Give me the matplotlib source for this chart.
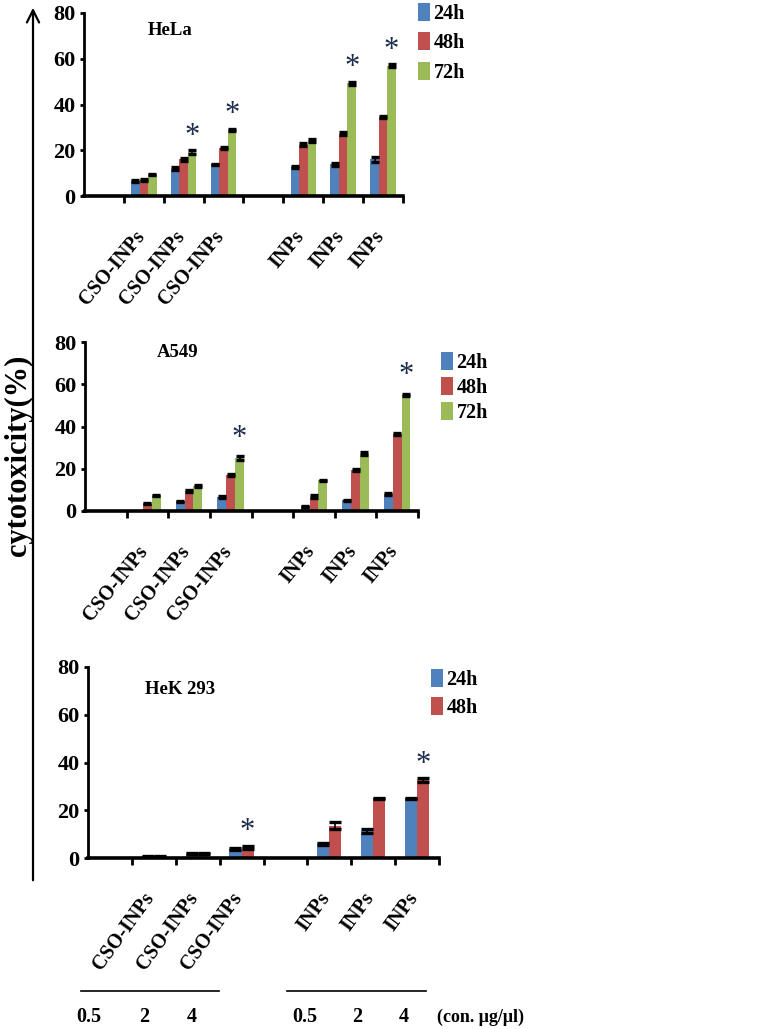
import matplotlib
matplotlib.use("Agg")
import matplotlib.pyplot as plt
import matplotlib.transforms as mtransforms
from matplotlib.patches import FancyArrowPatch, Patch
from matplotlib.lines import Line2D
import numpy as np

plt.rcParams["font.family"] = ["Liberation Serif", "DejaVu Serif"]
plt.rcParams["font.weight"] = "bold"

# ── data ─────────────────────────────────────────────
slot_labels = ["", "CSO-INPs", "CSO-INPs", "CSO-INPs", "", "INPs", "INPs", "INPs"]
bar_slots = [1, 2, 3, 5, 6, 7]

hela_24 = [6.5, 12.0, 13.8, 12.8, 13.8, 16.0]
hela_48 = [7.0, 16.0, 21.0, 22.5, 27.3, 34.5]
hela_72 = [9.3, 19.3, 28.8, 24.3, 49.2, 57.0]
hela_24_err = [0.4, 0.5, 0.3, 0.5, 0.5, 1.0]
hela_48_err = [0.5, 0.6, 0.4, 0.5, 0.6, 0.4]
hela_72_err = [0.3, 1.0, 0.4, 0.5, 0.8, 0.5]
hela_stars = [1, 2, 4, 5]          # groups with * on 72h bar

a549_24 = [0.0, 4.5, 6.6, 2.2, 5.0, 8.0]
a549_48 = [3.5, 9.3, 17.0, 6.8, 19.2, 36.5]
a549_72 = [7.3, 11.7, 25.0, 14.5, 27.2, 54.8]
a549_24_err = [0.0, 0.4, 0.4, 0.3, 0.4, 0.4]
a549_48_err = [0.4, 0.5, 0.4, 0.8, 0.5, 0.5]
a549_72_err = [0.3, 0.4, 0.8, 0.4, 0.8, 0.5]
a549_stars = [2, 5]

hek_24 = [0.8, 1.7, 3.9, 6.0, 11.2, 25.0]
hek_48 = [0.8, 1.7, 4.4, 13.5, 25.0, 32.7]
hek_24_err = [0.2, 0.2, 0.4, 0.4, 0.8, 0.3]
hek_48_err = [0.2, 0.2, 0.8, 1.4, 0.3, 0.7]
hek_stars = [2, 5]                 # on 48h bar

conc_labels = ["0.5", "2", "4", "0.5", "2", "4"]
conc_unit = "(con. μg/μl)"

COLORS = {"24h": "#4F81BD", "48h": "#C0504D", "72h": "#9BBB59"}
STAR_COLOR = "#1C2B4A"

W, H = 771, 1029
fig = plt.figure(figsize=(W / 100, H / 100), dpi=100)


def fx(px):
    return px / W


def fy(py):
    return 1 - py / H


def make_panel(rect, series, errs, stars, title, title_pos, bw, cap,
               star_off, rot, leg_xy, leg_space):
    ax = fig.add_axes(rect)
    n = len(series)
    x = np.array(bar_slots, dtype=float)
    offs = (np.arange(n) - (n - 1) / 2) * bw
    names = list(series.keys())
    for k, name in enumerate(names):
        vals = series[name]
        ax.bar(x + offs[k], vals, width=bw, color=COLORS[name], edgecolor="none", zorder=2)
        e = np.array(errs[name])
        m = e > 0
        ax.errorbar((x + offs[k])[m], np.array(vals)[m], yerr=e[m], fmt="none",
                    ecolor="black", elinewidth=1.2, capsize=cap, capthick=2.4, zorder=3)
    last = series[names[-1]]
    for g in stars:
        ax.text(x[g] + offs[-1], last[g] + star_off, "*", ha="center", va="center",
                fontsize=22, color=STAR_COLOR, fontweight="normal")
    ax.set_xlim(-0.5, 7.5)
    ax.set_ylim(0, 80)
    ax.set_yticks([0, 20, 40, 60, 80])
    ax.set_xticks(range(8))
    ax.set_xticklabels(slot_labels, rotation=rot, ha="right", va="top", fontsize=14.5)
    ax.set_xticks(np.arange(0.5, 8, 1), minor=True)
    ax.tick_params(axis="x", which="major", length=0, pad=22)
    ax.tick_params(axis="x", which="minor", length=5, width=2, direction="out")
    ax.tick_params(axis="y", length=3, width=2, direction="out", labelsize=16, pad=3)
    shift = mtransforms.ScaledTranslation(5 / 100, 0, fig.dpi_scale_trans)
    for lab in ax.get_xticklabels():
        lab.set_transform(lab.get_transform() + shift)
    for s in ["top", "right"]:
        ax.spines[s].set_visible(False)
    ax.spines["left"].set_linewidth(2)
    ax.spines["bottom"].set_linewidth(2.6)
    ax.set_facecolor("none")
    ax.text(title_pos[0], title_pos[1], title, transform=ax.transAxes,
            ha="left", va="center", fontsize=13.5)
    handles = [Patch(facecolor=COLORS[nm], edgecolor="none") for nm in names]
    fig.legend(handles, names, loc="upper left", bbox_to_anchor=leg_xy,
               frameon=False, fontsize=14.5, handlelength=0.62, handleheight=1.0,
               handletextpad=0.15, labelspacing=leg_space, borderpad=0,
               borderaxespad=0)
    return ax


make_panel([fx(84), fy(196), fx(403 - 84), (196 - 13) / H],
           {"24h": hela_24, "48h": hela_48, "72h": hela_72},
           {"24h": hela_24_err, "48h": hela_48_err, "72h": hela_72_err},
           hela_stars, "HeLa", (0.20, 0.907), 0.213, 2.8, 6.8, 50,
           (fx(418), fy(3)), 0.42)

make_panel([fx(85), fy(511), fx(418 - 85), (511 - 342) / H],
           {"24h": a549_24, "48h": a549_48, "72h": a549_72},
           {"24h": a549_24_err, "48h": a549_48_err, "72h": a549_72_err},
           a549_stars, "A549", (0.216, 0.935), 0.213, 2.8, 9.3, 51,
           (fx(441), fy(352)), 0.2)

make_panel([fx(88), fy(858), fx(439 - 88), (858 - 667) / H],
           {"24h": hek_24, "48h": hek_48},
           {"24h": hek_24_err, "48h": hek_48_err},
           hek_stars, "HeK 293", (0.162, 0.88), 0.277, 4.0, 6.6, 54,
           (fx(431), fy(669)), 0.35)

# big y arrow and label
fig.add_artist(FancyArrowPatch((fx(33), fy(883)), (fx(33), fy(5)),
                               transform=fig.transFigure, arrowstyle="->",
                               mutation_scale=22, lw=1.6, color="black"))
fig.text(fx(18), fy(455), "cytotoxicity(%)", rotation=90, ha="center",
         va="center", fontsize=22)

# concentration lines and labels
fig.add_artist(Line2D([fx(81), fx(219)], [fy(991), fy(991)], color="black", lw=1.2))
fig.add_artist(Line2D([fx(287), fx(426)], [fy(991), fy(991)], color="black", lw=1.2))
conc_x = [89, 144, 192, 305, 357, 404]
for cx, lab in zip(conc_x, conc_labels):
    fig.text(fx(cx), fy(1017), lab, ha="center", va="center", fontsize=14.5)
fig.text(fx(437), fy(1017), conc_unit, ha="left", va="center", fontsize=13)

fig.savefig("out.png", dpi=100)
